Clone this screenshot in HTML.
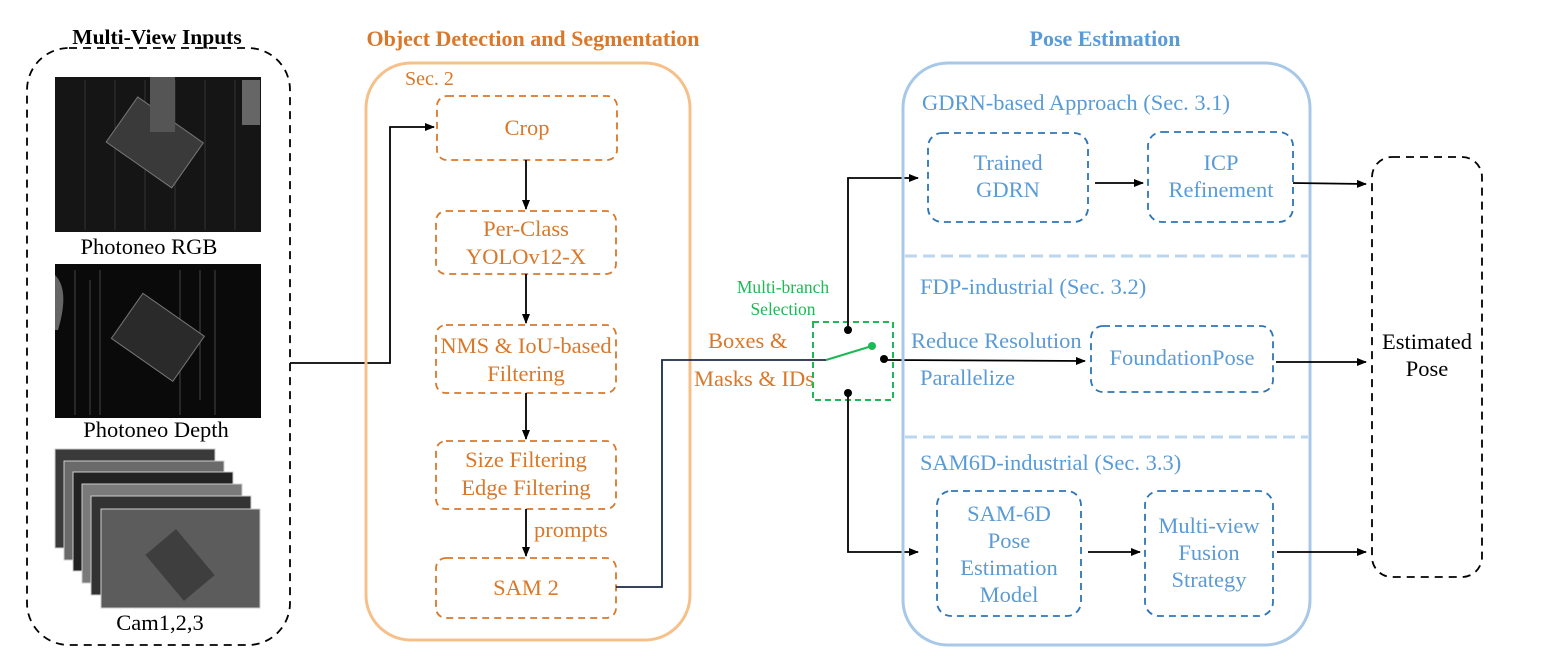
<!DOCTYPE html>
<html><head><meta charset="utf-8"><style>
html,body{margin:0;padding:0;background:#fff}
svg{display:block}
text{font-family:"Liberation Serif","DejaVu Serif",serif}
.o{fill:#d9782a;font-size:22.5px}
.b{fill:#5b9bd5;font-size:22.5px}
.k{fill:#000;font-size:22.5px}
.ob{fill:none;stroke:#d9782a;stroke-width:1.8;stroke-dasharray:7 5}
.bb{fill:none;stroke:#2e75b6;stroke-width:1.8;stroke-dasharray:7 5}
.ln{stroke:#000;stroke-width:1.8;fill:none}
</style></head><body>
<svg width="1546" height="666" viewBox="0 0 1546 666" xmlns="http://www.w3.org/2000/svg">
<defs>
<marker id="a" markerWidth="10" markerHeight="8" refX="9" refY="4" orient="auto" markerUnits="userSpaceOnUse"><path d="M0,0 L10,4 L0,8 z" fill="#000"/></marker>
</defs>
<!-- Left -->
<rect x="27" y="48" width="263" height="597" rx="42" fill="none" stroke="#000" stroke-width="1.8" stroke-dasharray="8 6"/>
<rect x="65" y="28" width="185" height="19" fill="#fff"/>
<text x="157" y="44" text-anchor="middle" class="k" style="font-weight:bold;font-size:21.5px">Multi-View Inputs</text>
<rect x="55" y="77" width="206" height="155" fill="#151515"/>
<g stroke="#333" stroke-width="1">
<line x1="85" y1="80" x2="85" y2="230"/><line x1="115" y1="80" x2="115" y2="230"/><line x1="145" y1="80" x2="145" y2="230"/><line x1="175" y1="80" x2="175" y2="230"/><line x1="205" y1="80" x2="205" y2="230"/><line x1="235" y1="80" x2="235" y2="230"/>
</g>
<rect x="115" y="115" width="80" height="55" transform="rotate(35 155 142)" fill="#3a3a3a" stroke="#777"/>
<rect x="150" y="77" width="25" height="55" fill="#555"/>
<rect x="242" y="80" width="18" height="45" fill="#666"/>
<text x="149" y="254" text-anchor="middle" class="k">Photoneo RGB</text>
<rect x="55" y="264" width="206" height="154" fill="#0a0a0a"/>
<g stroke="#444" stroke-width="1">
<line x1="75" y1="270" x2="75" y2="415"/><line x1="90" y1="280" x2="90" y2="415"/><line x1="100" y1="270" x2="100" y2="415"/><line x1="180" y1="270" x2="180" y2="415"/><line x1="200" y1="270" x2="200" y2="400"/><line x1="215" y1="270" x2="215" y2="415"/>
</g>
<path d="M55,275 Q70,290 58,330 L55,330 z" fill="#666"/>
<rect x="120" y="310" width="75" height="55" transform="rotate(35 158 338)" fill="#2a2a2a" stroke="#777"/>
<text x="156" y="437" text-anchor="middle" class="k">Photoneo Depth</text>
<g stroke="#ccc" stroke-width="1">
<rect x="55" y="449" width="160" height="99" fill="#3a3a3a"/>
<rect x="64" y="461" width="160" height="99" fill="#6a6a6a"/>
<rect x="73" y="472" width="160" height="99" fill="#222"/>
<rect x="82" y="484" width="160" height="99" fill="#7a7a7a"/>
<rect x="91" y="496" width="160" height="99" fill="#333"/>
<rect x="101" y="509" width="159" height="99" fill="#5c5c5c"/>
</g>
<rect x="150" y="545" width="60" height="40" transform="rotate(50 180 565)" fill="#3e3e3e"/>
<text x="160" y="630" text-anchor="middle" class="k">Cam1,2,3</text>
<polyline points="290,363 390,363 390,127 434,127" class="ln" marker-end="url(#a)"/>

<!-- Orange -->
<text x="533" y="46" text-anchor="middle" class="o" style="font-weight:bold;font-size:22px">Object Detection and Segmentation</text>
<rect x="366" y="63" width="324" height="577" rx="45" fill="none" stroke="#f5c08a" stroke-width="3"/>
<text x="405" y="85" class="o" style="font-size:20px">Sec. 2</text>
<rect x="437" y="96" width="180" height="64" rx="10" class="ob"/>
<text x="527" y="135" text-anchor="middle" class="o">Crop</text>
<rect x="436" y="211" width="180" height="63" rx="10" class="ob"/>
<text x="526" y="236" text-anchor="middle" class="o">Per-Class</text>
<text x="526" y="264" text-anchor="middle" class="o">YOLOv12-X</text>
<rect x="436" y="325" width="180" height="68" rx="10" class="ob"/>
<text x="526" y="353" text-anchor="middle" class="o">NMS &amp; IoU-based</text>
<text x="526" y="381" text-anchor="middle" class="o">Filtering</text>
<rect x="436" y="441" width="180" height="68" rx="10" class="ob"/>
<text x="526" y="467" text-anchor="middle" class="o">Size Filtering</text>
<text x="526" y="495" text-anchor="middle" class="o">Edge Filtering</text>
<rect x="436" y="558" width="180" height="60" rx="10" class="ob"/>
<text x="526" y="595" text-anchor="middle" class="o">SAM 2</text>
<line x1="526" y1="160" x2="526" y2="209" class="ln" marker-end="url(#a)"/>
<line x1="526" y1="274" x2="526" y2="323" class="ln" marker-end="url(#a)"/>
<line x1="526" y1="393" x2="526" y2="439" class="ln" marker-end="url(#a)"/>
<line x1="526" y1="509" x2="526" y2="556" class="ln" marker-end="url(#a)"/>
<text x="534" y="537" class="o">prompts</text>
<polyline points="616,587 662,587 662,360 826,360" stroke="#1a2a4a" stroke-width="1.8" fill="none"/>
<text x="708" y="348" class="o">Boxes &amp;</text>
<text x="694" y="386" class="o">Masks &amp; IDs</text>
<!-- switch -->
<text x="783" y="293" text-anchor="middle" style="fill:#1db954;font-size:17.5px">Multi-branch</text>
<text x="783" y="315" text-anchor="middle" style="fill:#1db954;font-size:17.5px">Selection</text>
<rect x="813" y="322" width="80" height="78" fill="none" stroke="#1db954" stroke-width="2" stroke-dasharray="6 4"/>
<line x1="826" y1="360" x2="872" y2="346" stroke="#1db954" stroke-width="2"/>
<circle cx="872" cy="346" r="4" fill="#1db954"/>
<circle cx="848" cy="330" r="4" fill="#000"/>
<circle cx="848" cy="393" r="4" fill="#000"/>
<circle cx="884" cy="359" r="4" fill="#000"/>
<polyline points="848,330 848,178 918,178" class="ln" marker-end="url(#a)"/>
<polyline points="848,393 848,552 918,552" class="ln" marker-end="url(#a)"/>
<line x1="884" y1="360" x2="1085" y2="361" class="ln" marker-end="url(#a)"/>

<!-- Blue -->
<text x="1105" y="46" text-anchor="middle" class="b" style="font-weight:bold;font-size:22px">Pose Estimation</text>
<rect x="903" y="63" width="407" height="582" rx="45" fill="none" stroke="#a8c8e8" stroke-width="3"/>
<line x1="905" y1="256" x2="1308" y2="256" stroke="#bcd6ee" stroke-width="3" stroke-dasharray="12 6"/>
<line x1="905" y1="437" x2="1308" y2="437" stroke="#bcd6ee" stroke-width="3" stroke-dasharray="12 6"/>
<text x="922" y="110" class="b">GDRN-based Approach (Sec. 3.1)</text>
<rect x="928" y="133" width="160" height="89" rx="14" class="bb"/>
<text x="1008" y="170" text-anchor="middle" class="b">Trained</text>
<text x="1008" y="197" text-anchor="middle" class="b">GDRN</text>
<rect x="1148" y="132" width="145" height="90" rx="14" class="bb"/>
<text x="1221" y="170" text-anchor="middle" class="b">ICP</text>
<text x="1221" y="197" text-anchor="middle" class="b">Refinement</text>
<line x1="1095" y1="183" x2="1143" y2="183" class="ln" marker-end="url(#a)"/>
<line x1="1293" y1="183" x2="1366" y2="184" class="ln" marker-end="url(#a)"/>
<text x="920" y="294" class="b">FDP-industrial (Sec. 3.2)</text>
<text x="911" y="348" class="b">Reduce Resolution</text>
<text x="920" y="385" class="b">Parallelize</text>
<rect x="1091" y="326" width="182" height="66" rx="12" class="bb"/>
<text x="1182" y="365" text-anchor="middle" class="b">FoundationPose</text>
<line x1="1276" y1="362" x2="1366" y2="362" class="ln" marker-end="url(#a)"/>
<text x="920" y="470" class="b">SAM6D-industrial (Sec. 3.3)</text>
<rect x="937" y="491" width="144" height="125" rx="14" class="bb"/>
<text x="1009" y="521" text-anchor="middle" class="b">SAM-6D</text>
<text x="1009" y="548" text-anchor="middle" class="b">Pose</text>
<text x="1009" y="575" text-anchor="middle" class="b">Estimation</text>
<text x="1009" y="602" text-anchor="middle" class="b">Model</text>
<rect x="1145" y="491" width="128" height="125" rx="14" class="bb"/>
<text x="1209" y="533" text-anchor="middle" class="b">Multi-view</text>
<text x="1209" y="560" text-anchor="middle" class="b">Fusion</text>
<text x="1209" y="587" text-anchor="middle" class="b">Strategy</text>
<line x1="1088" y1="552" x2="1140" y2="552" class="ln" marker-end="url(#a)"/>
<line x1="1277" y1="552" x2="1366" y2="552" class="ln" marker-end="url(#a)"/>
<rect x="1372" y="157" width="110" height="420" rx="20" fill="none" stroke="#000" stroke-width="1.8" stroke-dasharray="8 6"/>
<text x="1427" y="349" text-anchor="middle" class="k">Estimated</text>
<text x="1427" y="376" text-anchor="middle" class="k">Pose</text>
</svg>
</body></html>
